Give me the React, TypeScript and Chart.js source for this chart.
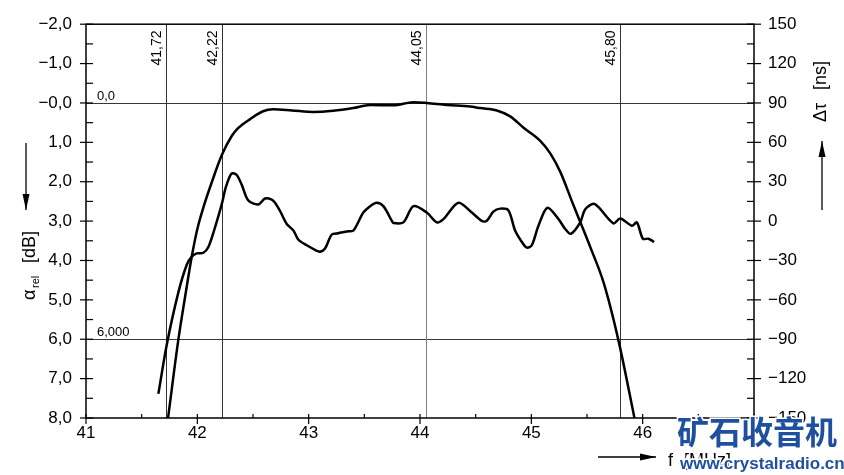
import React, { useEffect, useRef } from 'react';
import { Chart, registerables } from 'chart.js';

Chart.register(...registerables);

// Attenuation (left axis, dB)
const attFreq = [41.737, 41.827, 41.9, 41.95, 42.0, 42.06, 42.129, 42.219, 42.309, 42.366, 42.474, 42.59, 42.68, 42.85, 43.04, 43.22, 43.4, 43.55, 43.76, 43.94, 44.06, 44.24, 44.45, 44.54, 44.69, 44.81, 44.93, 45.08, 45.17, 45.26, 45.376, 45.465, 45.535, 45.65, 45.785, 45.93];
const attDb = [8.0, 6.06, 4.75, 3.9, 3.2, 2.6, 2.02, 1.33, 0.84, 0.64, 0.41, 0.21, 0.16, 0.19, 0.23, 0.2, 0.13, 0.05, 0.06, -0.02, 0.0, 0.05, 0.09, 0.13, 0.19, 0.34, 0.63, 0.96, 1.28, 1.75, 2.58, 3.2, 3.7, 4.57, 6.06, 8.05];

// Group delay (right axis, ns)
const delayFreq = [41.65, 41.725, 41.829, 41.905, 41.95, 41.995, 42.054, 42.099, 42.159, 42.219, 42.258, 42.309, 42.354, 42.399, 42.458, 42.548, 42.608, 42.668, 42.698, 42.743, 42.803, 42.863, 42.908, 42.983, 43.073, 43.102, 43.147, 43.208, 43.267, 43.357, 43.402, 43.491, 43.552, 43.612, 43.671, 43.747, 43.761, 43.851, 43.941, 44.061, 44.151, 44.21, 44.345, 44.465, 44.555, 44.6, 44.659, 44.72, 44.794, 44.854, 44.915, 44.96, 45.004, 45.064, 45.145, 45.244, 45.304, 45.355, 45.439, 45.483, 45.558, 45.603, 45.738, 45.798, 45.903, 45.948, 46.002, 46.052, 46.103];
const delayNs = [-131.6, -94.3, -54.5, -33.3, -27.1, -24.6, -24.1, -19.7, -4.7, 12.7, 26.4, 36.3, 35.1, 27.6, 15.7, 12.7, 17.2, 16.4, 14.0, 7.7, -2.2, -7.2, -14.2, -18.4, -22.6, -23.4, -20.9, -10.2, -9.2, -7.7, -7.2, 6.5, 11.4, 14.0, 11.4, 0.2, -1.5, -1.0, 11.4, 6.5, -1.0, 1.5, 14.0, 6.5, 0.2, 0.2, 7.2, 9.5, 8.2, -7.2, -15.9, -20.2, -18.4, -3.5, 10.2, 1.5, -6.0, -9.7, -1.0, 8.9, 13.2, 10.7, -1.7, 2.0, -3.5, -1.0, -13.4, -13.4, -15.9];

// Reference markers
const markerFreqs = [41.72, 42.22, 44.05, 45.8];
const markerLabels = ['41,72', '42,22', '44,05', '45,80'];
const markerColors = ['#333', '#333', '#808080', '#333'];
const levelValues = [0, 6];
const levelLabels = ['0,0', '6,000'];

const FONT = 'Liberation Sans';

function fmtDb(v: number): string {
  if (!Number.isInteger(v)) return '';
  const s = Math.abs(v).toFixed(1).replace('.', ',');
  return v <= 0 ? '\u2212' + s : s;
}
function fmtNs(v: number): string {
  if (Math.round(v) % 30 !== 0) return '';
  return v < 0 ? '\u2212' + Math.abs(v) : String(v);
}

function arrow(ctx: CanvasRenderingContext2D, x1: number, y1: number, x2: number, y2: number) {
  ctx.beginPath();
  ctx.moveTo(x1, y1);
  ctx.lineTo(x2, y2);
  ctx.stroke();
  const a = Math.atan2(y2 - y1, x2 - x1);
  const L = 16, W = 3.5;
  ctx.beginPath();
  ctx.moveTo(x2, y2);
  ctx.lineTo(x2 - L * Math.cos(a) + W * Math.sin(a), y2 - L * Math.sin(a) - W * Math.cos(a));
  ctx.lineTo(x2 - L * Math.cos(a) - W * Math.sin(a), y2 - L * Math.sin(a) + W * Math.cos(a));
  ctx.closePath();
  ctx.fill();
}

const decorPlugin = {
  id: 'decor',
  beforeDatasetsDraw(chart: any) {
    const { ctx, chartArea: ca, scales } = chart;
    const x = scales.x, y = scales.y;
    ctx.save();
    ctx.lineWidth = 1;
    ctx.strokeStyle = '#3a3340';
    ctx.fillStyle = '#000';
    ctx.font = `13px ${FONT}`;
    ctx.textAlign = 'left';
    ctx.textBaseline = 'alphabetic';
    levelValues.forEach((v, i) => {
      const py = Math.round(y.getPixelForValue(v)) + 0.5;
      ctx.beginPath();
      ctx.moveTo(ca.left, py);
      ctx.lineTo(ca.right, py);
      ctx.stroke();
      ctx.fillText(levelLabels[i], ca.left + 11, py - 4);
    });
    markerFreqs.forEach((f, i) => {
      const px = Math.round(x.getPixelForValue(f)) + 0.5;
      ctx.strokeStyle = markerColors[i];
      ctx.beginPath();
      ctx.moveTo(px, ca.top);
      ctx.lineTo(px, ca.bottom);
      ctx.stroke();
      ctx.save();
      ctx.translate(px - 2, 48);
      ctx.rotate(-Math.PI / 2);
      ctx.textAlign = 'center';
      ctx.textBaseline = 'bottom';
      ctx.fillStyle = '#000';
      ctx.font = `14px ${FONT}`;
      ctx.fillText(markerLabels[i], 0, 0);
      ctx.restore();
    });
    ctx.restore();
  },
  afterDraw(chart: any) {
    const { ctx, chartArea: ca, scales } = chart;
    ctx.save();
    ctx.strokeStyle = '#000';
    ctx.fillStyle = '#000';
    ctx.lineWidth = 1.5;
    ctx.strokeRect(ca.left, ca.top, ca.right - ca.left, ca.bottom - ca.top);
    ctx.lineWidth = 1.2;
    scales.y.ticks.forEach((t: any) => {
      const py = scales.y.getPixelForValue(t.value);
      const major = t.label !== '';
      ctx.beginPath();
      ctx.moveTo(ca.left - (major ? 6 : 0), py);
      ctx.lineTo(ca.left + 7, py);
      ctx.stroke();
    });
    scales.y2.ticks.forEach((t: any) => {
      const py = scales.y2.getPixelForValue(t.value);
      const major = t.label !== '';
      ctx.beginPath();
      ctx.moveTo(ca.right - 7, py);
      ctx.lineTo(ca.right + (major ? 7 : 0), py);
      ctx.stroke();
    });
    scales.x.ticks.forEach((t: any) => {
      const px = scales.x.getPixelForValue(t.value);
      const major = Number.isInteger(t.value);
      ctx.beginPath();
      ctx.moveTo(px, ca.bottom - 4);
      ctx.lineTo(px, ca.bottom + (major ? 6 : 0));
      ctx.stroke();
    });
    // left axis title
    ctx.save();
    ctx.translate(30, 300);
    ctx.rotate(-Math.PI / 2);
    ctx.textAlign = 'left';
    ctx.textBaseline = 'middle';
    ctx.font = `18px ${FONT}`;
    ctx.fillText('\u03b1', 0, 0);
    ctx.font = `11px ${FONT}`;
    ctx.fillText('rel', 12, 6);
    ctx.font = `18px ${FONT}`;
    ctx.fillText('[dB]', 37, 0);
    ctx.restore();
    // right axis title
    ctx.save();
    ctx.translate(821, 122);
    ctx.rotate(-Math.PI / 2);
    ctx.textAlign = 'left';
    ctx.textBaseline = 'middle';
    ctx.font = `18px ${FONT}`;
    ctx.fillText('\u0394\u03c4', 0, 0);
    ctx.fillText('[ns]', 32, 0);
    ctx.restore();
    // x title
    ctx.font = `18px ${FONT}`;
    ctx.textAlign = 'left';
    ctx.textBaseline = 'alphabetic';
    ctx.fillText('f', 668, 466);
    ctx.fillText('[MHz]', 684, 466);
    // arrows
    ctx.lineWidth = 1.3;
    arrow(ctx, 26, 143, 26, 210);
    arrow(ctx, 822, 210, 822, 141);
    arrow(ctx, 598, 457, 656, 457);
    // watermark
    ctx.textAlign = 'left';
    ctx.textBaseline = 'alphabetic';
    ctx.font = `bold 32px "Noto Sans CJK SC"`;
    ctx.lineWidth = 3;
    ctx.strokeStyle = '#fff';
    ctx.fillStyle = '#1f4f9f';
    ctx.strokeText('矿石收音机', 677, 444);
    ctx.fillText('矿石收音机', 677, 444);
    ctx.font = `bold 17px ${FONT}`;
    ctx.strokeText('www.crystalradio.cn', 680, 469);
    ctx.fillText('www.crystalradio.cn', 680, 469);
    ctx.restore();
  },
};

export default function App() {
  const ref = useRef<HTMLCanvasElement>(null);
  useEffect(() => {
    if (!ref.current) return;
    Chart.defaults.font.family = FONT;
    Chart.defaults.color = '#000';
    const chart = new Chart(ref.current, {
      type: 'line',
      data: {
        datasets: [
          {
            label: 'attenuation',
            data: attFreq.map((f, i) => ({ x: f, y: attDb[i] })),
            yAxisID: 'y',
            borderColor: '#000',
            borderWidth: 2.5,
            pointRadius: 0,
            cubicInterpolationMode: 'monotone',
            fill: false,
          },
          {
            label: 'delay',
            data: delayFreq.map((f, i) => ({ x: f, y: delayNs[i] })),
            yAxisID: 'y2',
            borderColor: '#000',
            borderWidth: 2.5,
            pointRadius: 0,
            tension: 0.3,
            fill: false,
          },
        ],
      },
      options: {
        animation: false,
        responsive: false,
        devicePixelRatio: 1,
        layout: { padding: { top: 16, left: 0, right: 0, bottom: 0 } },
        plugins: { legend: { display: false }, tooltip: { enabled: false } },
        scales: {
          x: {
            type: 'linear',
            min: 41,
            max: 47,
            grid: { display: false, drawTicks: false },
            border: { display: false },
            ticks: {
              stepSize: 0.5,
              autoSkip: false,
              maxRotation: 0,
              padding: 5,
              font: { size: 17, family: FONT },
              color: '#000',
              callback: (v: any) => (Number.isInteger(v) && v < 47 ? String(v) : ''),
            },
            afterFit: (s: any) => { s.height = 57; },
          },
          y: {
            type: 'linear',
            position: 'left',
            reverse: true,
            min: -2,
            max: 8,
            grid: { display: false, drawTicks: false },
            border: { display: false },
            ticks: {
              stepSize: 0.5,
              autoSkip: false,
              padding: 14,
              font: { size: 17, family: FONT },
              color: '#000',
              callback: (v: any) => fmtDb(Number(v)),
            },
            afterFit: (s: any) => { s.width = 86; },
          },
          y2: {
            type: 'linear',
            position: 'right',
            min: -150,
            max: 150,
            grid: { display: false, drawTicks: false },
            border: { display: false },
            ticks: {
              stepSize: 15,
              autoSkip: false,
              padding: 14,
              font: { size: 17, family: FONT },
              color: '#000',
              callback: (v: any) => fmtNs(Number(v)),
            },
            afterFit: (s: any) => { s.width = 90; },
          },
        },
      } as any,
      plugins: [decorPlugin],
    });
    return () => chart.destroy();
  }, []);
  return (
    <div style={{ position: 'absolute', left: 0, top: 0, width: 844, height: 475, background: '#fff' }}>
      <canvas ref={ref} width={844} height={475} style={{ display: 'block' }} />
    </div>
  );
}
